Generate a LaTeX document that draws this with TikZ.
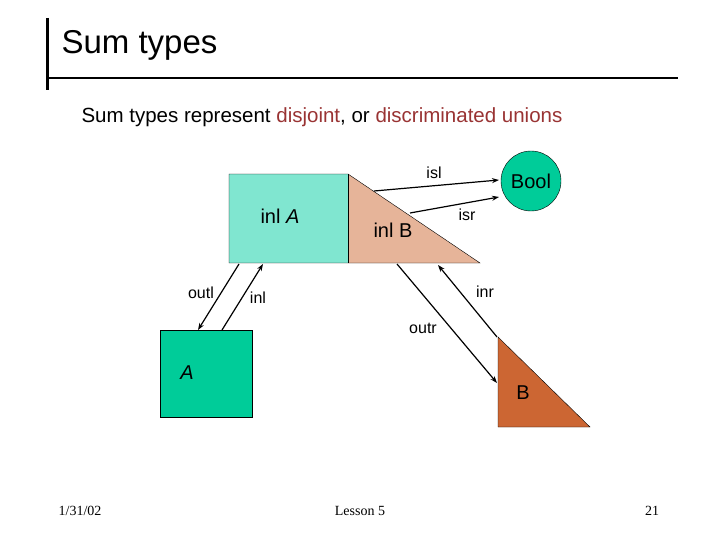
\documentclass[tikz,border=0pt]{standalone}
\usepackage{fontspec}
\setmainfont{Liberation Sans}
\newfontfamily\footfont{Liberation Serif}
\usetikzlibrary{arrows.meta}
\definecolor{lteal}{HTML}{80E6D0}
\definecolor{peach}{HTML}{E6B499}
\definecolor{teal2}{HTML}{00CC99}
\definecolor{rust}{HTML}{CC6633}
\definecolor{dred}{HTML}{993333}
\begin{document}
\begin{tikzpicture}[x=1pt,y=-1pt,
  arr/.style={-{Stealth[length=7pt,width=5pt]},line width=1.2pt},
  lbl/.style={font=\fontsize{16}{18}\selectfont},
  big/.style={font=\fontsize{20}{24}\selectfont},
  foot/.style={font=\footfont\fontsize{14}{16}\selectfont}]
\useasboundingbox (0,0) rectangle (720,540);
\draw[line width=3pt] (47,18) -- (47,90);
\draw[line width=2.5pt] (47,78) -- (678,78);
\node[anchor=west,font=\fontsize{33}{38}\selectfont] (title) at (58,45) {Sum types};
\node[anchor=west,font=\fontsize{20.5}{24}\selectfont] (sub) at (78,117) {Sum types represent \textcolor{dred}{disjoint}, or \textcolor{dred}{discriminated unions}};
\fill[lteal] (229,174) rectangle (348,263);
\fill[peach] (348,174) -- (348,263) -- (480,263) -- cycle;
\draw (229,263) -- (229,174) -- (348,174) -- (480,263) -- cycle;
\draw (348,174) -- (348,263);
\node[draw,circle,fill=teal2,minimum size=60pt,inner sep=0pt,big] (bool) at (531,181) {Bool};
\fill[teal2,draw=black] (160,330) rectangle (252,417);
\filldraw[fill=rust,draw=black] (498,337) -- (498,427) -- (590,427) -- cycle;
\coordinate (islS) at (374,191); \coordinate (islE) at (499,180);
\coordinate (isrS) at (410,213); \coordinate (isrE) at (499,197);
\draw[arr] (islS) -- (islE);
\draw[arr] (isrS) -- (isrE);
\coordinate (outlS) at (239,264); \coordinate (outlE) at (198,330);
\coordinate (inlS) at (222,330); \coordinate (inlE) at (263,264);
\coordinate (outrS) at (397,264); \coordinate (outrE) at (497,383);
\coordinate (inrS) at (497,337); \coordinate (inrE) at (438,265);
\draw[arr] (outlS) -- (outlE);
\draw[arr] (inlS) -- (inlE);
\draw[arr] (outrS) -- (outrE);
\draw[arr] (inrS) -- (inrE);
\node[lbl] (l1) at (434,173) {isl};
\node[lbl] (l2) at (467,215) {isr};
\node[big] (l3) at (280,216) {inl \textit{A}};
\node[big] (l4) at (393,230) {inl B};
\node[lbl] (l5) at (201,293) {outl};
\node[lbl] (l6) at (258,298) {inl};
\node[lbl] (l7) at (485,292) {inr};
\node[lbl] (l8) at (423,328) {outr};
\node[big] (l9) at (187,373) {\textit{A}};
\node[big] (l10) at (523,393) {B};
\node[foot] (f1) at (80,511) {1/31/02};
\node[foot] (f2) at (360,511) {Lesson 5};
\node[foot] (f3) at (652,511) {21};
\end{tikzpicture}
\end{document}
